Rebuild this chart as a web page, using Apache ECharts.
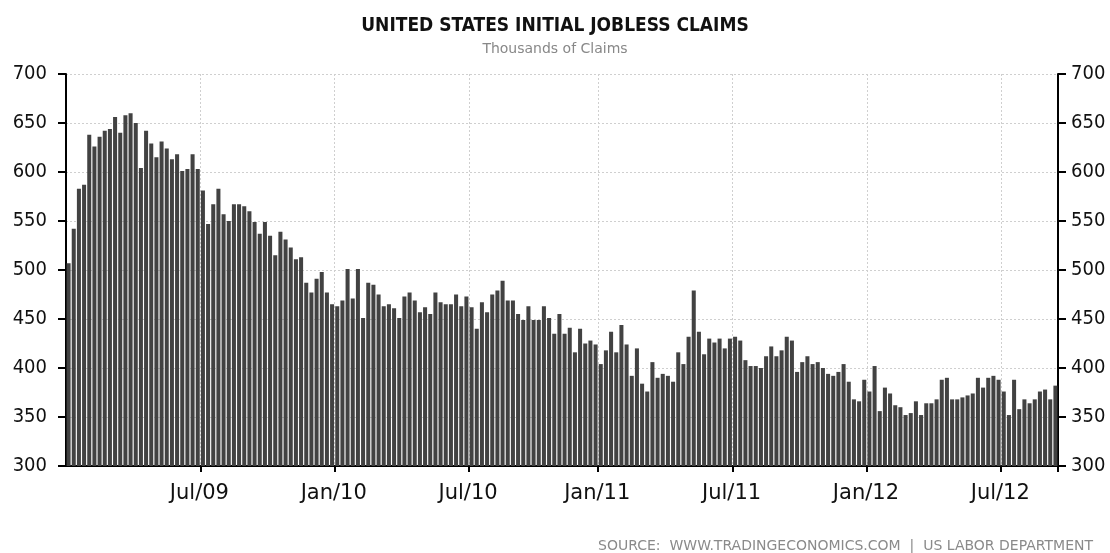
<!DOCTYPE html>
<html>
<head>
<meta charset="utf-8">
<script src="https://cdn.jsdelivr.net/npm/echarts@6/dist/echarts.min.js"></script>
<style>
  html, body { margin: 0; padding: 0; background: #fff; }
  #chart { width: 1110px; height: 553px; }
</style>
</head>
<body>
<div id="chart"></div>
<script>
// weekly initial claims, thousands (Jan 2009 - Sep 2012)
var claims = [
  507, 542, 583, 587, 638, 626, 636, 642, 644, 656, 640, 658, 660, 650, 604, 642, 629, 615, 631, 624,
  613, 618, 601, 603, 618, 603, 581, 547, 567, 583, 557, 550, 567, 567,
  565, 560, 549, 537, 549, 535, 515, 539, 531, 523, 511, 513, 487, 477, 491, 498, 477, 465, 463, 469,
  501, 471, 501, 451, 487, 485, 475, 463, 465, 461, 451, 473, 477,
  469, 457, 462, 455, 477, 467, 465, 465, 475, 463, 473, 462, 440, 467, 457, 475, 479, 489, 469, 469,
  455, 449, 463, 449, 449, 463, 451, 435, 455, 435, 441, 416, 440, 425,
  428, 424, 404, 418, 437, 416, 444, 424, 392, 420, 384, 376, 406, 390, 394, 392, 386, 416, 404, 432,
  479, 437, 414, 430, 426, 430, 420, 430, 432, 428, 408,
  402, 402, 400, 412, 422, 412, 418, 432, 428, 396, 406, 412, 404, 406, 400, 394, 392, 396, 404, 386,
  368, 366, 388, 376, 402, 356, 380, 374, 362, 360, 352, 354, 366, 352,
  364, 364, 368, 388, 390, 368, 368, 370, 372, 374, 390, 380, 390, 392, 388, 376, 352, 388, 358, 368,
  364, 368, 376, 378, 368, 382
];

// half-year tick labels and the week each one falls on
var tickLabels = ['Jul/09', 'Jan/10', 'Jul/10', 'Jan/11', 'Jul/11', 'Jan/12', 'Jul/12'];
var tickWeeks = [26, 52, 78, 103, 129, 155, 181];

var yTicks = { min: 300, max: 700, step: 50 };

var weeks = claims.map(function (v, i) { return String(i); });

function isTick(index) {
    return tickWeeks.indexOf(index) >= 0;
}

var condensed = "'DejaVu Sans Condensed', 'DejaVu Sans', sans-serif";

function yAxisCfg(pos) {
    return {
        type: 'value',
        position: pos,
        min: yTicks.min,
        max: yTicks.max,
        interval: yTicks.step,
        axisLine: { show: true, lineStyle: { color: '#000', width: 2 } },
        axisTick: { show: true, length: 8, lineStyle: { color: '#000', width: 2 } },
        axisLabel: {
            margin: pos === 'left' ? 19 : 13,
            color: '#111',
            fontFamily: condensed,
            fontSize: 20
        },
        splitLine: {
            show: pos === 'left',
            lineStyle: { color: '#cfcfcf', type: [2, 2], width: 1 }
        }
    };
}

var myChart = echarts.init(document.getElementById('chart'), null, { renderer: 'canvas' });

var option = {
    backgroundColor: '#fff',
    animation: false,
    title: {
        text: 'UNITED STATES INITIAL JOBLESS CLAIMS',
        subtext: 'Thousands of Claims',
        left: 'center',
        top: 12,
        itemGap: 6,
        textStyle: {
            fontFamily: condensed,
            fontWeight: 'bold',
            fontSize: 19,
            color: '#111'
        },
        subtextStyle: {
            fontFamily: 'DejaVu Sans',
            fontSize: 14,
            color: '#888'
        }
    },
    grid: {
        left: 66,
        right: 52,
        top: 74,
        bottom: 87,
        containLabel: false
    },
    xAxis: {
        type: 'category',
        data: weeks,
        boundaryGap: true,
        axisLine: { show: true, lineStyle: { color: '#000', width: 2 } },
        axisTick: {
            show: true,
            interval: function (index) { return isTick(index); },
            length: 6,
            lineStyle: { color: '#000', width: 2 }
        },
        axisLabel: {
            interval: function (index) { return isTick(index); },
            formatter: function (val, index) {
                return tickLabels[tickWeeks.indexOf(index)] || '';
            },
            margin: 17,
            padding: [0, 7, 0, 0],
            color: '#111',
            fontFamily: 'DejaVu Sans',
            fontSize: 21
        },
        splitLine: {
            show: true,
            interval: function (index) { return isTick(index); },
            lineStyle: { color: '#cfcfcf', type: [2, 2], width: 1 }
        }
    },
    yAxis: [yAxisCfg('left'), yAxisCfg('right')],
    series: [
        {
            type: 'bar',
            data: claims,
            barCategoryGap: '22%',
            itemStyle: { color: '#424242' },
            z: 3
        }
    ],
    graphic: [
        {
            type: 'text',
            right: 17,
            top: 539,
            style: {
                text: 'SOURCE:  WWW.TRADINGECONOMICS.COM  |  US LABOR DEPARTMENT',
                fontFamily: 'DejaVu Sans',
                fontSize: 14,
                fill: '#8a8a8a'
            }
        }
    ]
};

myChart.setOption(option);
</script>
</body>
</html>
